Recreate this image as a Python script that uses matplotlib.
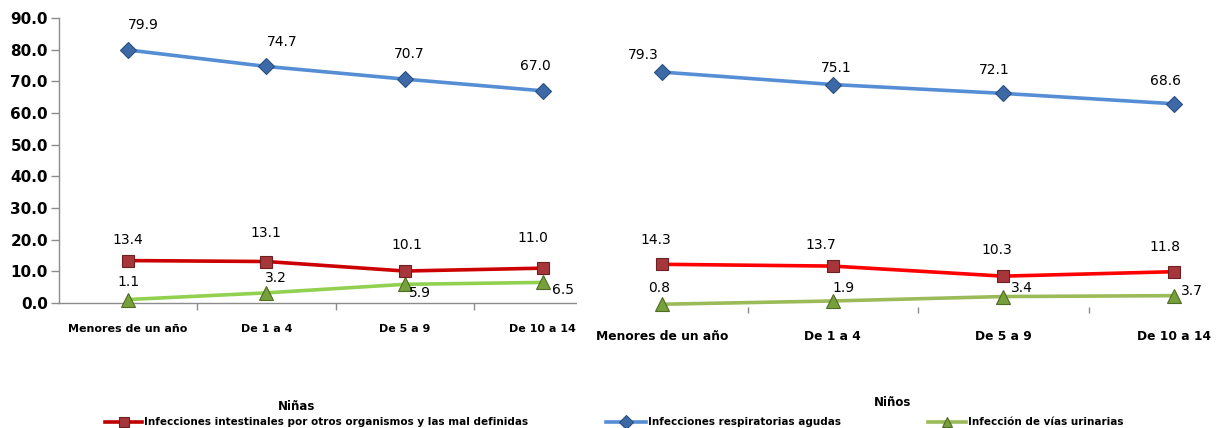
import matplotlib
matplotlib.use("Agg")
import matplotlib.pyplot as plt
from matplotlib.lines import Line2D
from matplotlib.ticker import FixedLocator

# ---------------- data ----------------
categories = ["Menores de un año", "De 1 a 4", "De 5 a 9", "De 10 a 14"]
series_names = ["Infecciones intestinales por otros organismos y las mal definidas",
                "Infecciones respiratorias agudas",
                "Infección de vías urinarias"]

ninas_intestinales = [13.4, 13.1, 10.1, 11.0]
ninas_respiratorias = [79.9, 74.7, 70.7, 67.0]
ninas_urinarias = [1.1, 3.2, 5.9, 6.5]

ninos_intestinales = [14.3, 13.7, 10.3, 11.8]
ninos_respiratorias = [79.3, 75.1, 72.1, 68.6]
ninos_urinarias = [0.8, 1.9, 3.4, 3.7]

yticks_left = [0, 10, 20, 30, 40, 50, 60, 70, 80, 90]

# label offsets (pixels) per point
off_ninas = {
    "resp": [(15, 25), (16, 24), (5, 25), (-8, 25)],
    "int": [(0, 21), (-1, 29), (2, 26), (-10, 30)],
    "uri": [(0, 18), (9, 15), (15, -9), (20, -8)],
}
off_ninos = {
    "resp": [(-19, 17), (3, 17), (-9, 23), (-8, 23)],
    "int": [(-6, 24), (-12, 21), (-6, 26), (-9, 25)],
    "uri": [(-3, 16), (11, 13), (19, 9), (18, 5)],
}

W, H = 1218, 428
fig = plt.figure(figsize=(W / 100, H / 100), dpi=100)


def px_rect(x0, x1, ytop, ybot):
    return [x0 / W, 1 - ybot / H, (x1 - x0) / W, (ybot - ytop) / H]


BLUE = "#558ED5"
BLUE_M, BLUE_E = "#3D6AA6", "#2A4F82"
RED_M, RED_E = "#A5373B", "#6E1F22"
GREEN_M, GREEN_E = "#76A03C", "#4F6B24"
GRAY = "#8C8C8C"

styles = {
    "int": dict(marker="s", markersize=8.5, mfc=RED_M, mec=RED_E, mew=0.8),
    "resp": dict(marker="D", markersize=8.5, mfc=BLUE_M, mec=BLUE_E, mew=0.8),
    "uri": dict(marker="^", markersize=9.5, mfc=GREEN_M, mec=GREEN_E, mew=0.8),
}

x = list(range(len(categories)))


def draw_panel(ax, data, offsets, colors, label_size):
    for key in ["uri", "int", "resp"]:
        vals = data[key]
        ax.plot(x, vals, color=colors[key], lw=2.6, zorder=3, clip_on=False,
                solid_capstyle="round", **styles[key])
        for xi, v, (dx, dy) in zip(x, vals, offsets[key]):
            ax.annotate(f"{v:.1f}", (xi, v), xytext=(dx, dy),
                        textcoords="offset pixels", ha="center", va="center",
                        fontsize=10, color="black", zorder=5,
                        annotation_clip=False)
    ax.set_xlim(-0.5, 3.5)
    ax.set_xticks(x)
    ax.set_xticklabels(categories, fontsize=label_size, fontweight="bold")
    ax.xaxis.set_minor_locator(FixedLocator([0.5, 1.5, 2.5]))
    ax.tick_params(axis="x", which="major", length=0, pad=15)
    ax.tick_params(axis="x", which="minor", length=5, color=GRAY, width=1,
                   direction="out")
    ax.spines["top"].set_visible(False)
    ax.spines["right"].set_visible(False)


# ---------------- left panel (Niñas) ----------------
axL = fig.add_axes(px_rect(59, 612, 18, 303))
draw_panel(axL,
           {"int": ninas_intestinales, "resp": ninas_respiratorias, "uri": ninas_urinarias},
           off_ninas,
           {"int": "#CC0000", "resp": BLUE, "uri": "#92D050"},
           8)
axL.set_ylim(0, 90)
axL.set_yticks(yticks_left)
axL.set_yticklabels([f"{t:.1f}" for t in yticks_left], fontsize=11, fontweight="bold")
axL.tick_params(axis="y", length=6, color=GRAY, width=1, pad=2)
axL.spines["left"].set_color(GRAY)
axL.spines["bottom"].set_color(GRAY)
axL.spines["left"].set_linewidth(1)
axL.spines["bottom"].set_linewidth(1)
axL.set_zorder(1)

# ---------------- right panel (Niños) ----------------
axR = fig.add_axes(px_rect(577, 1259, 18, 306.6))
draw_panel(axR,
           {"int": ninos_intestinales, "resp": ninos_respiratorias, "uri": ninos_urinarias},
           off_ninos,
           {"int": "#FF0000", "resp": BLUE, "uri": "#9BBB59"},
           8.8)
axR.set_ylim(0, 97.6)
axR.set_yticks([])
axR.spines["left"].set_visible(False)
axR.spines["bottom"].set_visible(False)
axR.tick_params(axis="x", which="minor", length=4)
axR.tick_params(axis="x", which="major", pad=17)
axR.set_facecolor("white")
axR.patch.set_visible(True)
axR.set_zorder(2)

# ---------------- titles ----------------
fig.text(297 / W, 1 - 407 / H, "Niñas", ha="center", va="center",
         fontsize=8.5, fontweight="bold")
fig.text(893 / W, 1 - 403 / H, "Niños", ha="center", va="center",
         fontsize=8.5, fontweight="bold")

# ---------------- legend ----------------
leg_y = 1 - 422 / H
leg_items = [
    ("int", "#C00000", 105, 142),
    ("resp", BLUE, 606, 646),
    ("uri", "#9BBB59", 928, 966),
]
for (key, col, x0, x1), name in zip(leg_items, series_names):
    st = dict(styles[key])
    st["markersize"] = st["markersize"] * 0.8
    line = Line2D([x0 / W, x1 / W], [leg_y, leg_y], color=col, lw=2.6,
                  transform=fig.transFigure, figure=fig)
    fig.add_artist(line)
    mk = Line2D([(x0 + x1) / 2 / W], [leg_y], linestyle="none",
                transform=fig.transFigure, figure=fig, **st)
    fig.add_artist(mk)
    fig.text((x1 + 2) / W, leg_y, name, ha="left", va="center",
             fontsize=7.5, fontweight="bold")

fig.savefig("out.png", dpi=100, facecolor="white")
